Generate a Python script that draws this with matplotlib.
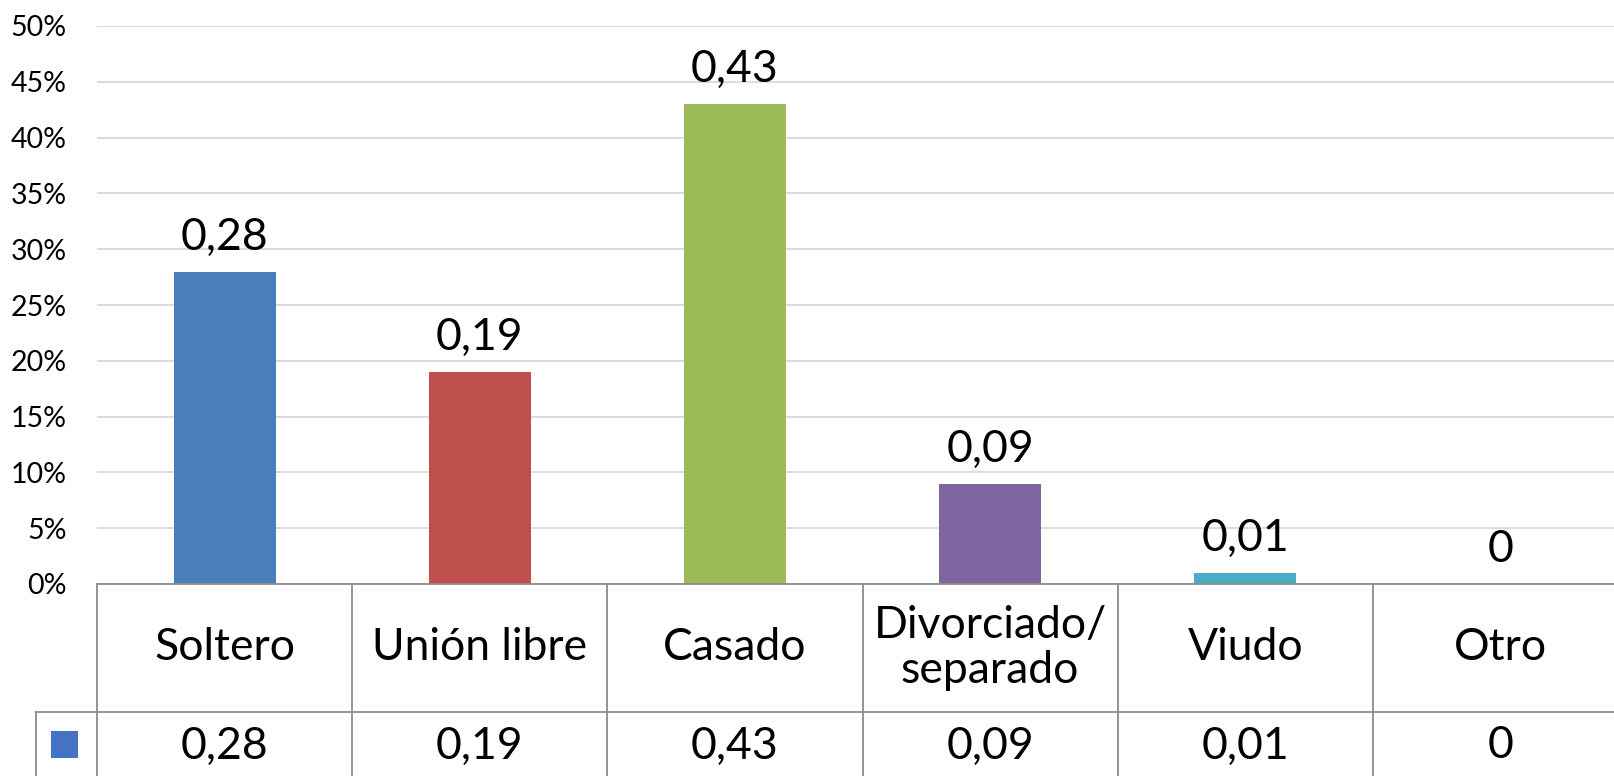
import matplotlib.pyplot as plt
import matplotlib.transforms as mtransforms
from matplotlib.patches import Rectangle
from matplotlib.ticker import PercentFormatter

plt.rcParams['font.family'] = ['Lato', 'DejaVu Sans']

categories = ["Soltero", "Unión libre", "Casado", "Divorciado/\nseparado", "Viudo", "Otro"]
values = [0.28, 0.19, 0.43, 0.09, 0.01, 0.0]
value_labels = ["0,28", "0,19", "0,43", "0,09", "0,01", "0"]
bar_colors = ["#4A7EBB", "#C0504D", "#9BBB59", "#8064A2", "#4BACC6", "#F79646"]
legend_color = "#4472C4"

W, H = 1614, 776
fig = plt.figure(figsize=(W / 100, H / 100), dpi=100)
# axes spans beyond right edge of figure (last column is cut off in the original)
ax = fig.add_axes([97 / W, (H - 584) / H, (1628 - 97) / W, (584 - 26) / H])

x = list(range(len(categories)))
ax.bar(x, values, width=0.40, color=bar_colors, zorder=3)

for xi, v, lab in zip(x, values, value_labels):
    ax.annotate(lab, (xi, v), xytext=(0, 10), textcoords="offset points",
                ha="center", va="bottom", fontsize=32)

ax.set_xlim(-0.5, len(categories) - 0.5)
ax.set_ylim(0, 0.5)
ax.set_yticks([i * 0.05 for i in range(11)])
ax.yaxis.set_major_formatter(PercentFormatter(1.0, decimals=0))
ax.tick_params(axis="y", length=0, pad=22, labelsize=20.5)
ax.tick_params(axis="x", length=0, labelbottom=False)
ax.grid(axis="y", color="#D9D9D9", linewidth=1.3, zorder=0)
for s in ["left", "right", "top"]:
    ax.spines[s].set_visible(False)
ax.spines["bottom"].set_color("#8C8C8C")
ax.spines["bottom"].set_linewidth(1.3)
ax.spines["bottom"].set_zorder(4)

# data table under the chart
tr = mtransforms.blended_transform_factory(ax.transData, fig.transFigure)
line_kw = dict(color="#8C8C8C", linewidth=1.3, transform=tr, clip_on=False)
y_top = (H - 584) / H
y_mid = (H - 712) / H
y_bot = 0.0
key_left = -0.5 - 61 / 255

for b in [i - 0.5 for i in range(len(categories) + 1)]:
    ax.plot([b, b], [y_top, y_bot], **line_kw)
ax.plot([key_left, len(categories) - 0.5], [y_mid, y_mid], **line_kw)
ax.plot([key_left, key_left], [y_mid, y_bot], **line_kw)

for xi, cat, lab in zip(x, categories, value_labels):
    ax.text(xi, (y_top + y_mid) / 2, cat, transform=tr, ha="center", va="center",
            fontsize=32, linespacing=1.1)
    ax.text(xi, (H - 746) / H, lab, transform=tr, ha="center", va="center", fontsize=32)

key_x = -0.5 - (97 - 51) / 255
ax.add_patch(Rectangle((key_x, (H - 758) / H), 27 / 255, 27 / H, transform=tr,
                       facecolor=legend_color, edgecolor="none", clip_on=False))

fig.savefig("out.png", dpi=100)
